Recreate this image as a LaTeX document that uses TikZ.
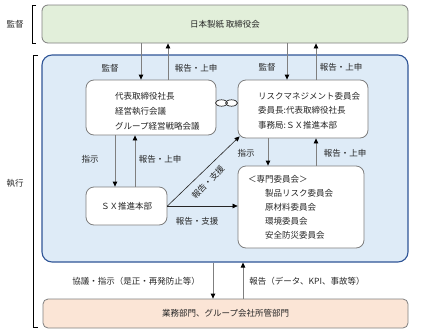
\documentclass[tikz,border=0pt]{standalone}
\usepackage{fontspec}
\setmainfont{Noto Sans CJK JP}
\usetikzlibrary{arrows.meta,calc}
\definecolor{greenfill}{HTML}{E2EFDA}
\definecolor{bluefill}{HTML}{DEEBF7}
\definecolor{blueline}{HTML}{2F5597}
\definecolor{orangefill}{HTML}{FBE5D6}
\definecolor{boxline}{HTML}{7F7F7F}
\definecolor{txt}{HTML}{262626}
\definecolor{arrline}{HTML}{7F7F7F}
\begin{document}
\begin{tikzpicture}[x=1pt,y=-1pt, font=\fontsize{8.5}{10}\selectfont, text=txt,
 panel/.style={draw=boxline, line width=0.8pt, rounded corners=6pt, inner sep=0pt},
 wbox/.style={draw=boxline, fill=white, line width=0.8pt, rounded corners=8pt, inner sep=0pt},
 lbl/.style={inner sep=1pt},
 multi/.style={anchor=west, align=left, inner sep=0pt},
 arr/.style={draw=arrline, line width=0.8pt, -{Triangle[length=5pt,width=4.5pt,color=black]}},
 darr/.style={draw=txt, line width=0.6pt, -{Triangle[length=5pt,width=4.5pt,color=black]}},
 brk/.style={draw=black, line width=1pt},
 link/.style={draw=txt, line width=0.7pt}
]
\useasboundingbox (0,0) rectangle (430,332);

% panels
\node[panel, fill=greenfill, minimum width=366pt, minimum height=38pt] (board) at (225,24) {日本製紙\ 取締役会};
\node[panel, fill=bluefill, draw=blueline, line width=1.1pt, rounded corners=10pt, minimum width=366pt, minimum height=207pt] (exec) at (225,158.5) {};
\node[panel, fill=orangefill, rounded corners=5pt, minimum width=365pt, minimum height=29pt] (dept) at (225.5,313.5) {業務部門、グループ会社所管部門};

% side labels and brackets
\node[lbl] (lsup) at (15,24) {監督};
\node[lbl] (lexec) at (15,183) {執行};
\draw[brk] (36,5) -- (32,5) -- (32,43) -- (36,43);
\draw[brk] (38,55) -- (33,55) -- (33,327) -- (38,327);

% inner boxes
\node[wbox, minimum width=130pt, minimum height=55pt] (A) at (151,107.5) {};
\node[multi, font=\fontsize{8.5}{15}\selectfont] (Atext) at (115,111) {代表取締役社長\\経営執行会議\\グループ経営戦略会議};

\node[wbox, minimum width=130pt, minimum height=58pt] (B) at (303,109) {};
\node[multi, font=\fontsize{8.5}{14.5}\selectfont] (Btext) at (258,110.5) {リスクマネジメント委員会\\委員長:代表取締役社長\\事務局:ＳＸ推進本部};

\node[wbox, minimum width=81pt, minimum height=38pt] (C) at (126.5,206) {ＳＸ推進本部};

\node[wbox, minimum width=126pt, minimum height=82pt] (D) at (301,207) {};
\node[multi, font=\fontsize{8.5}{14}\selectfont] (Dtext) at (248,207) {＜専門委員会＞\\\hspace*{17pt}製品リスク委員会\\\hspace*{17pt}原材料委員会\\\hspace*{17pt}環境委員会\\\hspace*{17pt}安全防災委員会};

% chain link between A and B
\fill[white] (221.5,103) ellipse [x radius=6, y radius=3.2];
\fill[white] (231.5,103) ellipse [x radius=6, y radius=3.2];
\draw[link] (231.5,103) ellipse [x radius=6, y radius=3.2];
\draw[link] (221.5,103) ellipse [x radius=6, y radius=3.2];

% x positions of vertical connectors
\coordinate (x1) at (141,0);
\coordinate (x2) at (168,0);
\coordinate (x3) at (287,0);
\coordinate (x4) at (316,0);
\coordinate (x5) at (115,0);
\coordinate (x6) at (135,0);
\coordinate (x7) at (268,0);
\coordinate (x8) at (316,0);
\coordinate (x9) at (213,0);
\coordinate (x10) at (243,0);

% board <-> A
\draw[arr] (x1 |- board.south) -- (x1 |- A.north);
\draw[arr] (x2 |- A.north) -- (x2 |- board.south);
\node[lbl] (l1) at (110,68) {監督};
\node[lbl] (l2) at (196,68) {報告・上申};

% board <-> B
\draw[arr] (x3 |- board.south) -- (x3 |- B.north);
\draw[arr] (x4 |- B.north) -- (x4 |- board.south);
\node[lbl] (l3) at (267,67) {監督};
\node[lbl] (l4) at (341,67) {報告・上申};

% A <-> C
\draw[arr] (x5 |- A.south) -- (x5 |- C.north);
\draw[arr] (x6 |- C.north) -- (x6 |- A.south);
\node[lbl] (l5) at (90,159) {指示};
\node[lbl] (l6) at (160,159) {報告・上申};

% B <-> D
\draw[arr] (x7 |- B.south) -- (x7 |- D.north);
\draw[arr] (x8 |- D.north) -- (x8 |- B.south);
\node[lbl] (l7) at (246,153) {指示};
\node[lbl] (l8) at (345,153) {報告・上申};

% C -> B (diagonal), C -> D
\coordinate (Bc) at ($(B.south west)+(2,-2)$);
\draw[darr] (C.east) -- (Bc);
\node[lbl, rotate=46, inner sep=0pt] (l9) at (208,182) {報告・支援};
\draw[darr] (C.east) -- (C.east -| D.west);
\node[lbl] (l10) at (197,221) {報告・支援};

% exec <-> dept
\draw[arr] (x9 |- exec.south) -- (x9 |- dept.north);
\draw[arr] (x10 |- dept.north) -- (x10 |- exec.south);
\node[lbl] (l11) at (136,281) {協議・指示（是正・再発防止等）};
\node[lbl] (l12) at (307,281) {報告（データ、KPI、事故等）};
\end{tikzpicture}
\end{document}
